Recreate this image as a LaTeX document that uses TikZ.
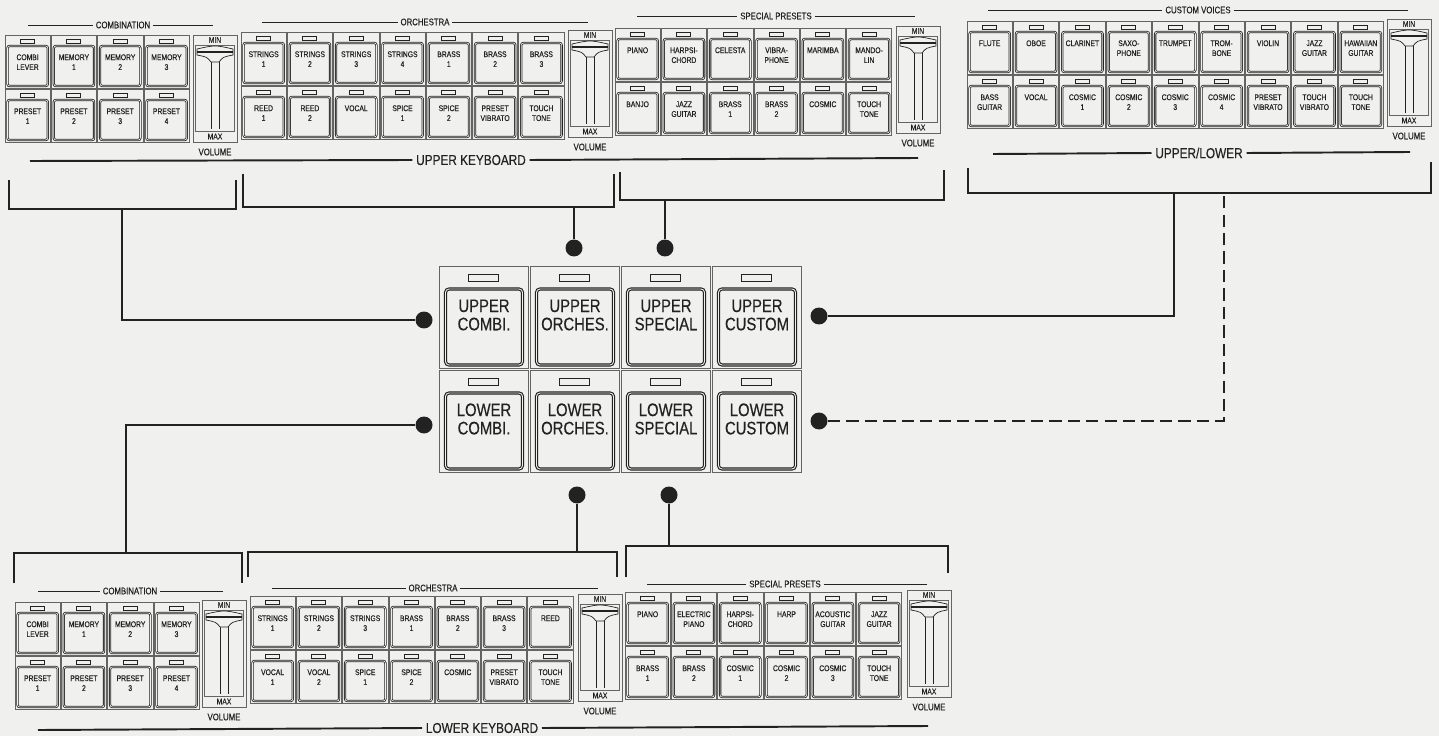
\documentclass[tikz,border=0pt]{standalone}
\usepackage{fontspec}
\newfontfamily\condfont[FakeStretch=0.82,FakeBold=0.35]{Liberation Sans}
\usetikzlibrary{positioning}
\definecolor{paper}{RGB}{240,240,238}
\definecolor{ink}{RGB}{34,34,34}
\tikzset{
  btnframe/.style={draw=ink!70,line width=0.45pt},
  btnled/.style={draw=ink,line width=0.4pt,fill=paper},
  btnface/.style={draw=ink,line width=0.45pt,double=paper,double distance=0.4pt,rounded corners=1.2pt},
  btntext/.style={anchor=north,align=center,inner sep=0pt,text=ink,font=\condfont\fontsize{4.7}{5.6}\selectfont},
  bigframe/.style={draw=ink!70,line width=0.5pt,minimum width=1.78cm,minimum height=2.04cm,inner sep=0pt},
  bigface/.style={draw=ink,line width=0.65pt,double=paper,double distance=0.5pt,rounded corners=2pt},
  bigtext/.style={align=center,inner sep=0pt,text=ink,font=\condfont\fontsize{10.3}{10.4}\selectfont},
  smalltext/.style={inner sep=0pt,text=ink,font=\condfont\fontsize{4.7}{5}\selectfont},
  sectext/.style={inner sep=1.5pt,text=ink,font=\condfont\fontsize{5.4}{6}\selectfont},
  sectline/.style={draw=ink,line width=0.5pt},
  kbdtext/.style={inner sep=2pt,text=ink,font=\condfont\fontsize{8.2}{9}\selectfont},
  kbdline/.style={draw=ink,line width=1.1pt},
  bracketline/.style={draw=ink,line width=1.5pt},
  wire/.style={draw=ink,line width=1.5pt},
  pin/.style={circle,fill=ink,minimum size=0.34cm,inner sep=0pt},
}
% one voice button: name, x, y, label
\newcommand{\keybtn}[4]{%
  \draw[btnframe] (#2,#3) rectangle ++(45.3,53);
  \draw[btnled] (#2+15.5,#3+4) rectangle ++(14,4);
  \draw[btnface] (#2+2.5,#3+11) rectangle ++(40.3,40);
  \node[btntext] (#1) at (#2+22.6,#3+19) {#4};
}
% a row of voice buttons: prefix, x0, y0, pitch, labels
\newcommand{\keyrow}[5]{%
  \foreach \lab [count=\i from 0] in {#5}{\keybtn{#1\i}{#2+\i*#4}{#3}{\lab}}%
}
% volume slider: name, x, y
\newcommand{\fader}[3]{%
  \draw[btnframe] (#2,#3) rectangle ++(44,107);
  \node[smalltext] (#1-min) at (#2+22,#3+5) {MIN};
  \draw[btnframe] (#2+2.5,#3+10) rectangle ++(39,86);
  \node[smalltext] (#1-max) at (#2+22,#3+101.5) {MAX};
  \draw[ink,line width=0.4pt] (#2+18,#3+27) -- (#2+18,#3+94) (#2+26,#3+27) -- (#2+26,#3+94);
  \draw[ink,line width=0.4pt,fill=paper] (#2+4,#3+14) .. controls (#2+22,#3+10) .. (#2+40,#3+14)
    -- (#2+40,#3+20) .. controls (#2+30,#3+22) .. (#2+26,#3+27) -- (#2+18,#3+27)
    .. controls (#2+14,#3+22) .. (#2+4,#3+20) -- cycle;
  \draw[ink,line width=1.2pt] (#2+4,#3+17) -- (#2+40,#3+17);
  \node[smalltext,font=\condfont\fontsize{5.4}{6}\selectfont] (#1-vol) at (#2+22,#3+117) {VOLUME};
}
% centre selector button: name, x, y, label
\newcommand{\bigbtn}[4]{%
  \node[bigframe] (#1) at (#2+44.5,#3+51) {};
  \draw[btnled] (#2+29.5,#3+8) rectangle ++(30,7);
  \draw[bigface] (#2+6.5,#3+23) rectangle ++(77,76);
  \node[bigtext] (#1-t) at (#2+45,#3+49) {#4};
}

\begin{document}
\begin{tikzpicture}[x=0.02cm,y=-0.02cm]
\fill[paper] (0,0) rectangle (1439,736);
\useasboundingbox (0,0) rectangle (1439,736);

% upper keyboard panels
\keyrow{ucomb-a}{5}{35}{46.3}{{COMBI\\LEVER},{MEMORY\\1},{MEMORY\\2},{MEMORY\\3}}
\keyrow{ucomb-b}{5}{89}{46.3}{{PRESET\\1},{PRESET\\2},{PRESET\\3},{PRESET\\4}}
\fader{ucomb-vol}{193}{35}
\keyrow{uorch-a}{241}{32}{46.3}{{STRINGS\\1},{STRINGS\\2},{STRINGS\\3},{STRINGS\\4},{BRASS\\1},{BRASS\\2},{BRASS\\3}}
\keyrow{uorch-b}{241}{86}{46.3}{{REED\\1},{REED\\2},{VOCAL},{SPICE\\1},{SPICE\\2},{PRESET\\VIBRATO},{TOUCH\\TONE}}
\fader{uorch-vol}{568}{30}
\keyrow{uspec-a}{615}{28}{46.3}{{PIANO},{HARPSI-\\CHORD},{CELESTA},{VIBRA-\\PHONE},{MARIMBA},{MANDO-\\LIN}}
\keyrow{uspec-b}{615}{82}{46.3}{{BANJO},{JAZZ\\GUITAR},{BRASS\\1},{BRASS\\2},{COSMIC},{TOUCH\\TONE}}
\fader{uspec-vol}{896}{26}
\keyrow{cvoice-a}{967}{21}{46.4}{{FLUTE},{OBOE},{CLARINET},{SAXO-\\PHONE},{TRUMPET},{TROM-\\BONE},{VIOLIN},{JAZZ\\GUITAR},{HAWAIIAN\\GUITAR}}
\keyrow{cvoice-b}{967}{75}{46.4}{{BASS\\GUITAR},{VOCAL},{COSMIC\\1},{COSMIC\\2},{COSMIC\\3},{COSMIC\\4},{PRESET\\VIBRATO},{TOUCH\\VIBRATO},{TOUCH\\TONE}}
\fader{cvoice-vol}{1387}{19}

\node[sectext] (ucomb-t) at (123,25) {COMBINATION};
\draw[sectline] (28,25) -- (ucomb-t.west) (ucomb-t.east) -- (213,25);
\node[sectext] (uorch-t) at (425,22) {ORCHESTRA};
\draw[sectline] (262,22) -- (uorch-t.west) (uorch-t.east) -- (588,22);
\node[sectext] (uspec-t) at (776,16) {SPECIAL PRESETS};
\draw[sectline] (637,16) -- (uspec-t.west) (uspec-t.east) -- (915,16);
\node[sectext] (cvoice-t) at (1198,10) {CUSTOM VOICES};
\draw[sectline] (988,10) -- (cvoice-t.west) (cvoice-t.east) -- (1408,10);

\node[kbdtext] (ukbd) at (471,160) {UPPER KEYBOARD};
\draw[kbdline] (30,161) -- (ukbd.west) (ukbd.east) -- (918,158);
\node[kbdtext] (uplo) at (1199,153) {UPPER/LOWER};
\draw[kbdline] (993,154) -- (uplo.west) (uplo.east) -- (1410,152);

% lower keyboard panels
\keyrow{lcomb-a}{15}{602}{46.3}{{COMBI\\LEVER},{MEMORY\\1},{MEMORY\\2},{MEMORY\\3}}
\keyrow{lcomb-b}{15}{656}{46.3}{{PRESET\\1},{PRESET\\2},{PRESET\\3},{PRESET\\4}}
\fader{lcomb-vol}{202}{600}
\keyrow{lorch-a}{250}{596}{46.3}{{STRINGS\\1},{STRINGS\\2},{STRINGS\\3},{BRASS\\1},{BRASS\\2},{BRASS\\3},{REED}}
\keyrow{lorch-b}{250}{650}{46.3}{{VOCAL\\1},{VOCAL\\2},{SPICE\\1},{SPICE\\2},{COSMIC},{PRESET\\VIBRATO},{TOUCH\\TONE}}
\fader{lorch-vol}{578}{594}
\keyrow{lspec-a}{625}{592}{46.3}{{PIANO},{ELECTRIC\\PIANO},{HARPSI-\\CHORD},{HARP},{ACOUSTIC\\GUITAR},{JAZZ\\GUITAR}}
\keyrow{lspec-b}{625}{646}{46.3}{{BRASS\\1},{BRASS\\2},{COSMIC\\1},{COSMIC\\2},{COSMIC\\3},{TOUCH\\TONE}}
\fader{lspec-vol}{907}{590}

\node[sectext] (lcomb-t) at (130,591) {COMBINATION};
\draw[sectline] (38,591) -- (lcomb-t.west) (lcomb-t.east) -- (223,591);
\node[sectext] (lorch-t) at (433,588) {ORCHESTRA};
\draw[sectline] (272,588) -- (lorch-t.west) (lorch-t.east) -- (598,588);
\node[sectext] (lspec-t) at (785,584) {SPECIAL PRESETS};
\draw[sectline] (647,584) -- (lspec-t.west) (lspec-t.east) -- (927,584);

\node[kbdtext] (lkbd) at (482,728) {LOWER KEYBOARD};
\draw[kbdline] (38,730) -- (lkbd.west) (lkbd.east) -- (928,726);

% centre selector
\foreach \lab/\nm [count=\i from 0] in {{UPPER\\COMBI.}/ucombi,{UPPER\\ORCHES.}/uorches,{UPPER\\SPECIAL}/uspecial,{UPPER\\CUSTOM}/ucustom}
  {\bigbtn{\nm}{439+\i*91}{266}{\lab}}
\foreach \lab/\nm [count=\i from 0] in {{LOWER\\COMBI.}/lcombi,{LOWER\\ORCHES.}/lorches,{LOWER\\SPECIAL}/lspecial,{LOWER\\CUSTOM}/lcustom}
  {\bigbtn{\nm}{439+\i*91}{370}{\lab}}

% pins
\node[pin] (ucombi-pin) at (424,320) {};
\node[pin] (uorches-pin) at (574,248) {};
\node[pin] (uspecial-pin) at (665,248) {};
\node[pin] (ucustom-pin) at (819,316) {};
\node[pin] (lcombi-pin) at (424,425) {};
\node[pin] (lorches-pin) at (577,495) {};
\node[pin] (lspecial-pin) at (669,495) {};
\node[pin] (lcustom-pin) at (819,421) {};

% brackets
\draw[bracketline] (9,180) |- (236,209) -- (236,180);
\draw[bracketline] (243,174) |- (614,207) -- (614,174);
\draw[bracketline] (620,172) |- (944,200) -- (944,170);
\draw[bracketline] (968,168) |- (1431,193) -- (1431,162);
\draw[bracketline] (14,583) |- (242,553) -- (242,583);
\draw[bracketline] (248,577) |- (617,552) -- (617,577);
\draw[bracketline] (626,577) |- (948,546) -- (948,573);
\coordinate (ucomb-jn) at (122,209);
\coordinate (uorch-jn) at (574,207);
\coordinate (uspec-jn) at (665,200);
\coordinate (cvoice-jn) at (1174,193);
\coordinate (cvoice-dn) at (1224,193);
\coordinate (lcomb-jn) at (126,553);
\coordinate (lorch-jn) at (577,552);
\coordinate (lspec-jn) at (669,546);

% connectors
\draw[wire] (ucombi-pin) -| (ucomb-jn);
\draw[wire] (uorches-pin) -- (uorch-jn);
\draw[wire] (uspecial-pin) -- (uspec-jn);
\draw[wire] (ucustom-pin) -| (cvoice-jn);
\draw[wire,dash pattern=on 7pt off 3.5pt] (lcustom-pin) -| (cvoice-dn);
\draw[wire] (lcombi-pin) -| (lcomb-jn);
\draw[wire] (lorches-pin) -- (lorch-jn);
\draw[wire] (lspecial-pin) -- (lspec-jn);
\end{tikzpicture}
\end{document}
